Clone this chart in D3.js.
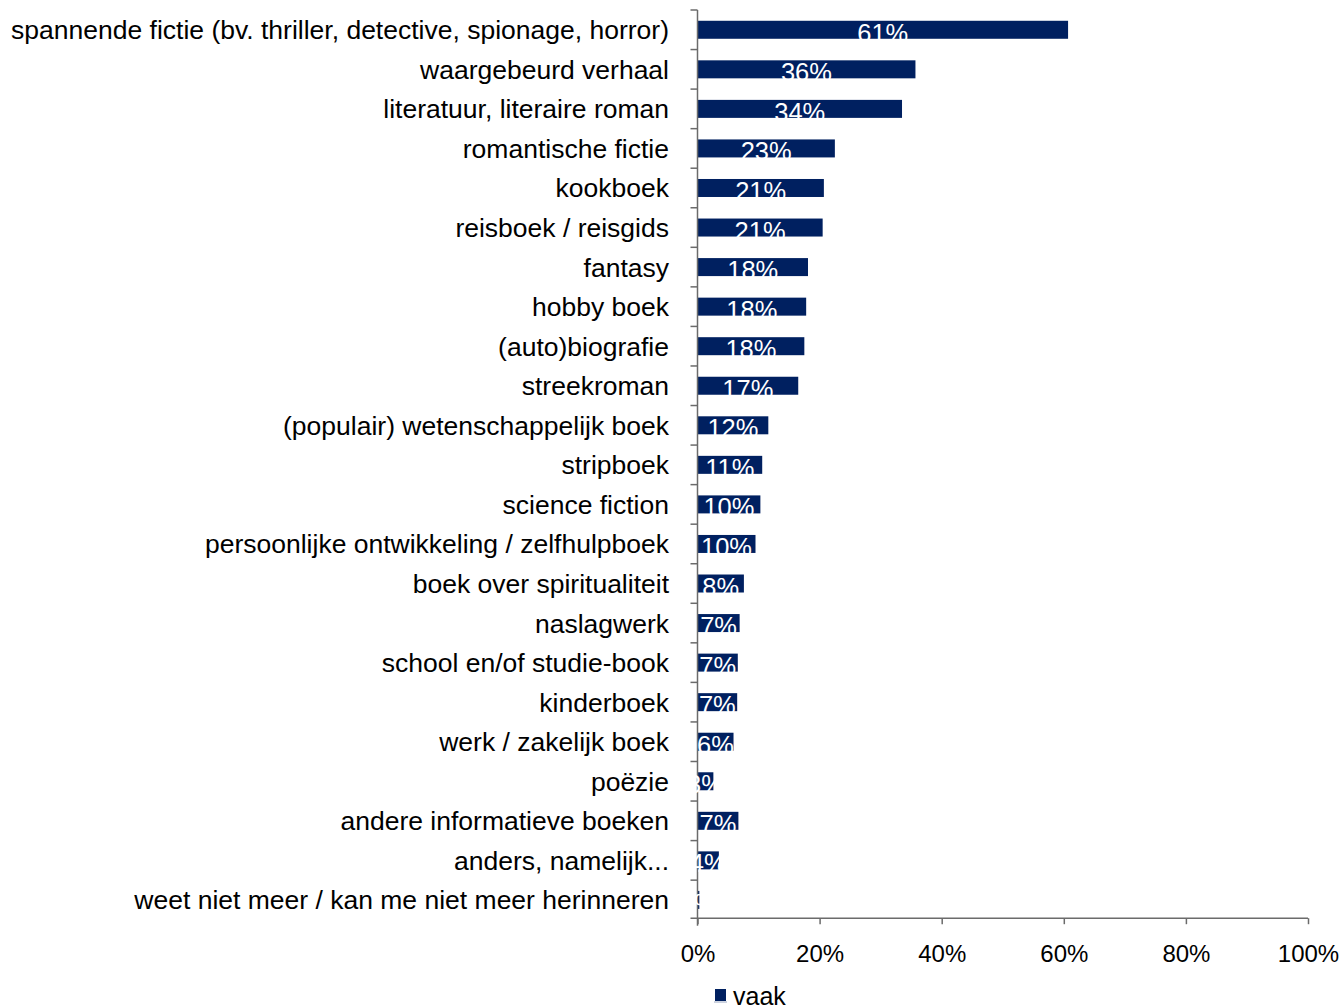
<!DOCTYPE html>
<html>
<head>
<meta charset="utf-8">
<script src="https://cdn.jsdelivr.net/npm/d3@7"></script>
<style>
  html, body { margin: 0; padding: 0; background: #fff; }
  svg { display: block; font-family: "Liberation Sans", Arial, sans-serif; }
</style>
</head>
<body>
<svg id="chart" width="1344" height="1008"></svg>
<script>
const categories = [
  "spannende fictie (bv. thriller, detective, spionage, horror)",
  "waargebeurd verhaal",
  "literatuur, literaire roman",
  "romantische fictie",
  "kookboek",
  "reisboek / reisgids",
  "fantasy",
  "hobby boek",
  "(auto)biografie",
  "streekroman",
  "(populair) wetenschappelijk boek",
  "stripboek",
  "science fiction",
  "persoonlijke ontwikkeling / zelfhulpboek",
  "boek over spiritualiteit",
  "naslagwerk",
  "school en/of studie-book",
  "kinderboek",
  "werk / zakelijk boek",
  "poëzie",
  "andere informatieve boeken",
  "anders, namelijk...",
  "weet niet meer / kan me niet meer herinneren"
];
const vaak = [60.7, 35.7, 33.5, 22.5, 20.7, 20.5, 18.1, 17.8, 17.5, 16.5, 11.6, 10.6, 10.3, 9.5, 7.6, 6.9, 6.6, 6.5, 5.9, 2.6, 6.7, 3.5, 0.3];
const xTicks = [0, 20, 40, 60, 80, 100];
const seriesName = "vaak";

const svg = d3.select("#chart");
const navy = "#002060";
const axisColor = "#6b6b6b";

const x = d3.scaleLinear().domain([0, 100]).range([697.5, 1308]);
const y = d3.scaleBand().domain(categories).range([10, 919.7])
  .paddingInner(0.545).paddingOuter(0.2725);
const yRow = d3.scaleBand().domain(categories).range([10, 919.7]).padding(0);

// bars
svg.append("g").selectAll("rect").data(categories).join("rect")
  .attr("x", x(0))
  .attr("y", d => y(d))
  .attr("width", (d, i) => x(vaak[i]) - x(0))
  .attr("height", y.bandwidth())
  .attr("fill", navy);

// y axis line and ticks
const ya = svg.append("g").attr("stroke", axisColor).attr("stroke-width", 1.5);
ya.append("line").attr("x1", x(0)).attr("x2", x(0)).attr("y1", yRow.range()[0]).attr("y2", yRow.range()[1] + 6);
ya.selectAll("line.t").data(categories).join("line").attr("class", "t")
  .attr("x1", x(0) - 7).attr("x2", x(0))
  .attr("y1", d => yRow(d)).attr("y2", d => yRow(d));

// x axis
const xa = svg.append("g").attr("transform", `translate(0,${yRow.range()[1] - 1.5})`)
  .call(d3.axisBottom(x).tickValues(xTicks).tickSize(6).tickSizeOuter(0).tickFormat(d => d + "%"));
xa.select(".domain").attr("stroke", axisColor).attr("stroke-width", 1.5)
  .attr("d", `M${x(0) - 7},0H${x(100)}`);
xa.selectAll(".tick line").attr("stroke", axisColor).attr("stroke-width", 1.5);
xa.selectAll(".tick text").attr("fill", "#000").attr("font-size", 24)
  .attr("font-family", "Liberation Sans, Arial, sans-serif").attr("dy", null).attr("y", 44);

// category labels
svg.append("g").selectAll("text").data(categories).join("text")
  .attr("x", 669)
  .attr("y", d => yRow(d) + yRow.bandwidth() / 2 + 9.5)
  .attr("text-anchor", "end")
  .attr("font-size", 26.5)
  .attr("fill", "#000")
  .text(d => d);

// value labels (white, baseline just below bar bottom)
svg.append("g").selectAll("text").data(categories).join("text")
  .attr("x", (d, i) => (x(0) + x(vaak[i])) / 2)
  .attr("y", d => y(d) + y.bandwidth() + 3)
  .attr("text-anchor", "middle")
  .attr("font-size", 25.5)
  .attr("fill", "#fff")
  .text((d, i) => Math.round(vaak[i]) + "%");

// legend
const lg = svg.append("g");
lg.append("rect").attr("x", 715).attr("y", 989).attr("width", 11).attr("height", 12).attr("fill", navy);
lg.append("line").attr("x1", 714).attr("x2", 727).attr("y1", 1002).attr("y2", 1002).attr("stroke", "#9aa6c0").attr("stroke-width", 1);
lg.append("text").attr("x", 733).attr("y", 1005).attr("font-size", 25).attr("fill", "#000").text(seriesName);
</script>
</body>
</html>
